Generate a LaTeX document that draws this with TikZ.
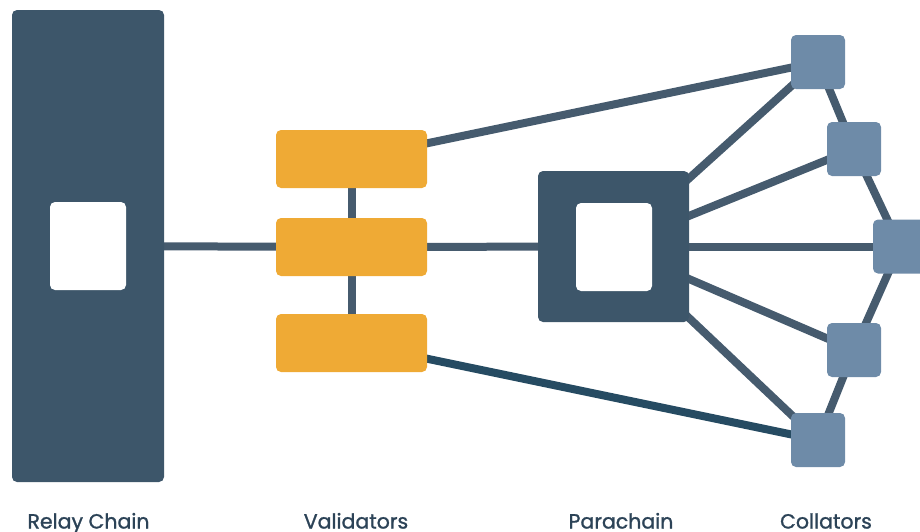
\documentclass[tikz,border=0pt]{standalone}
\usepackage{fontspec}
\setmainfont{Poppins}
\newfontfamily\lblfont{Poppins}[FakeBold=1.2]
\usetikzlibrary{backgrounds}
\definecolor{slate}{HTML}{3D566A}
\definecolor{link}{HTML}{465B6E}
\definecolor{linkdark}{HTML}{264B62}
\definecolor{gold}{HTML}{EFAA35}
\definecolor{coll}{HTML}{6E8BA8}
\definecolor{txt}{HTML}{2C4357}
\tikzset{
  box/.style={draw=none, rounded corners=5pt, inner sep=0pt},
  chainbox/.style={box, fill=slate},
  hole/.style={box, fill=white, minimum width=76pt, minimum height=88pt},
  valbox/.style={box, fill=gold, minimum width=151pt, minimum height=58pt},
  collbox/.style={box, fill=coll, minimum width=54pt, minimum height=54pt},
  conn/.style={draw=link, line width=8pt},
  conndark/.style={draw=linkdark, line width=8pt},
  lbl/.style={text=txt, font=\lblfont\fontsize{20.5pt}{22pt}\selectfont, anchor=base, inner sep=0pt}
}
\begin{document}
\begin{tikzpicture}[x=1pt,y=-1pt]
\useasboundingbox (0,0) rectangle (920,531);
% relay chain
\node[chainbox, minimum width=152pt, minimum height=472pt] (relay) at (88,246) {};
\node[hole] (relayhole) at (88,246) {};
% validators
\node[valbox] (v1) at (351.5,159) {};
\node[valbox] (v2) at (351.5,247) {};
\node[valbox] (v3) at (351.5,343) {};
% parachain
\node[chainbox, minimum width=151pt, minimum height=151pt] (para) at (613.5,246.5) {};
\node[hole] (parahole) at (614,247) {};
% collators
\node[collbox] (c1) at (818,62) {};
\node[collbox] (c2) at (854,149) {};
\node[collbox] (c3) at (900,246.5) {};
\node[collbox] (c4) at (854,350) {};
\node[collbox] (c5) at (818,440) {};
% labels
\node[lbl] (lrelay) at (88.5,528.5) {Relay Chain};
\node[lbl] (lval) at (356,528.5) {Validators};
\node[lbl] (lpara) at (621,528.5) {Parachain};
\node[lbl] (lcoll) at (826,528.5) {Collators};
\begin{scope}[on background layer]
  \draw[conn] (relay.center) -- (v2.center);
  \draw[conn] (v1.center) -- (v2.center) -- (v3.center);
  \draw[conn] (v2.center) -- (para.center);
  \draw[conn] (v1.center) -- (c1.center);
  \draw[conndark] (v3.center) -- (c5.center);
  \draw[conn] (para.center) -- (c1.center);
  \draw[conn] (para.center) -- (c2.center);
  \draw[conn] (para.center) -- (c3.center);
  \draw[conn] (para.center) -- (c4.center);
  \draw[conn] (para.center) -- (c5.center);
  \draw[conn] (c1.center) -- (c2.center) -- (c3.center) -- (c4.center) -- (c5.center);
\end{scope}
\end{tikzpicture}
\end{document}
